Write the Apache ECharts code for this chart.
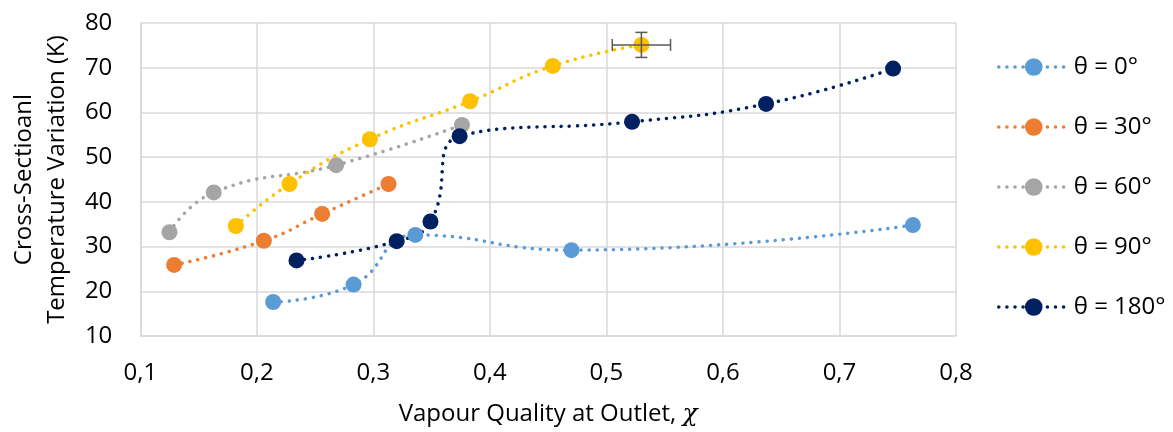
<!DOCTYPE html>
<html>
<head>
<meta charset="utf-8">
<script src="https://cdn.jsdelivr.net/npm/echarts@6/dist/echarts.min.js"></script>
<style>
  html, body { margin: 0; padding: 0; background: #fff; }
  #main { width: 1173px; height: 432px; }
</style>
</head>
<body>
<div id="main"></div>
<script>
// values
var names = ['θ = 0°', 'θ = 30°', 'θ = 60°', 'θ = 90°', 'θ = 180°']
var colors = ['#5B9BD5', '#ED7D31', '#A5A5A5', '#FFC000', '#002060']

var x0 = [0.214, 0.283, 0.336, 0.470, 0.763]
var y0 = [17.6, 21.5, 32.6, 29.2, 34.8]
var x30 = [0.129, 0.206, 0.256, 0.313]
var y30 = [25.9, 31.3, 37.3, 44.0]
var x60 = [0.125, 0.163, 0.268, 0.376]
var y60 = [33.2, 42.1, 48.2, 57.2]
var x90 = [0.182, 0.228, 0.297, 0.383, 0.454, 0.530]
var y90 = [34.6, 44.0, 54.0, 62.5, 70.4, 75.1]
var x180 = [0.234, 0.320, 0.349, 0.374, 0.522, 0.637, 0.746]
var y180 = [26.9, 31.2, 35.6, 54.7, 57.9, 61.9, 69.8]

// error bar on the last θ = 90° point
var errPoint = [0.530, 75.1]
var errX = 0.025
var errY = 2.8

var xs = [x0, x30, x60, x90, x180]
var ys = [y0, y30, y60, y90, y180]

var font = '"Open Sans", sans-serif'

function pairs(a, b) {
  return a.map(function (v, i) { return [v, b[i]] })
}

var series = names.map(function (n, i) {
  return {
    name: n,
    type: 'line',
    smooth: 0.5,
    data: pairs(xs[i], ys[i]),
    symbol: 'circle',
    symbolSize: 16,
    itemStyle: { color: colors[i] },
    lineStyle: { color: colors[i], width: 3.5, type: [0.1, 8], cap: 'round' },
    z: i === 3 ? 4 : 3
  }
})

series.push({
  type: 'custom',
  data: [[errPoint[0], errPoint[1], errX, errY]],
  z: 5,
  renderItem: function (params, api) {
    var x = api.value(0), y = api.value(1), dx = api.value(2), dy = api.value(3)
    var l = api.coord([x - dx, y]), r = api.coord([x + dx, y])
    var t = api.coord([x, y + dy]), b = api.coord([x, y - dy])
    var c = 6
    var st = { stroke: '#595959', lineWidth: 1.5 }
    return {
      type: 'group',
      children: [
        { type: 'line', shape: { x1: l[0], y1: l[1], x2: r[0], y2: r[1] }, style: st },
        { type: 'line', shape: { x1: l[0], y1: l[1] - c, x2: l[0], y2: l[1] + c }, style: st },
        { type: 'line', shape: { x1: r[0], y1: r[1] - c, x2: r[0], y2: r[1] + c }, style: st },
        { type: 'line', shape: { x1: t[0], y1: t[1], x2: b[0], y2: b[1] }, style: st },
        { type: 'line', shape: { x1: t[0] - c, y1: t[1], x2: t[0] + c, y2: t[1] }, style: st },
        { type: 'line', shape: { x1: b[0] - c, y1: b[1], x2: b[0] + c, y2: b[1] }, style: st }
      ]
    }
  }
})

var chart = echarts.init(document.getElementById('main'))
chart.setOption({
  animation: false,
  backgroundColor: '#fff',
  textStyle: { fontFamily: font },
  grid: { left: 132, right: 217, top: 23, bottom: 96 },
  legend: {
    orient: 'vertical',
    left: 992,
    top: 47,
    itemWidth: 70,
    itemHeight: 22,
    itemGap: 30,
    data: names,
    lineStyle: { width: 3.5 },
    textStyle: { fontSize: 24, color: '#000', fontFamily: font, lineHeight: 30 }
  },
  xAxis: {
    type: 'value',
    min: 0.1,
    max: 0.8,
    interval: 0.1,
    name: '{t|Vapour Quality at Outlet, }{g|χ}',
    nameLocation: 'middle',
    nameGap: 66,
    nameTextStyle: {
      rich: {
        t: { fontSize: 24, color: '#000', fontFamily: font },
        g: { fontSize: 25, color: '#000', fontStyle: 'italic', fontFamily: '"DejaVu Serif", serif' }
      }
    },
    axisLine: { lineStyle: { color: '#D9D9D9', width: 1.5 } },
    axisTick: { show: false },
    splitLine: { lineStyle: { color: '#D9D9D9', width: 1.5 } },
    axisLabel: {
      fontSize: 24,
      color: '#000',
      margin: 25,
      formatter: function (v) { return v.toFixed(1).replace('.', ',') }
    }
  },
  yAxis: {
    type: 'value',
    min: 10,
    max: 80,
    interval: 10,
    name: 'Cross-Sectioanl\nTemperature Variation (K)',
    nameLocation: 'middle',
    nameGap: 64,
    nameTextStyle: { fontSize: 24, color: '#000', lineHeight: 33 },
    axisLine: { show: true, lineStyle: { color: '#D9D9D9', width: 1.5 } },
    axisTick: { show: false },
    splitLine: { lineStyle: { color: '#D9D9D9', width: 1.5 } },
    axisLabel: { fontSize: 24, color: '#000', margin: 28 }
  },
  series: series
})
</script>
</body>
</html>
